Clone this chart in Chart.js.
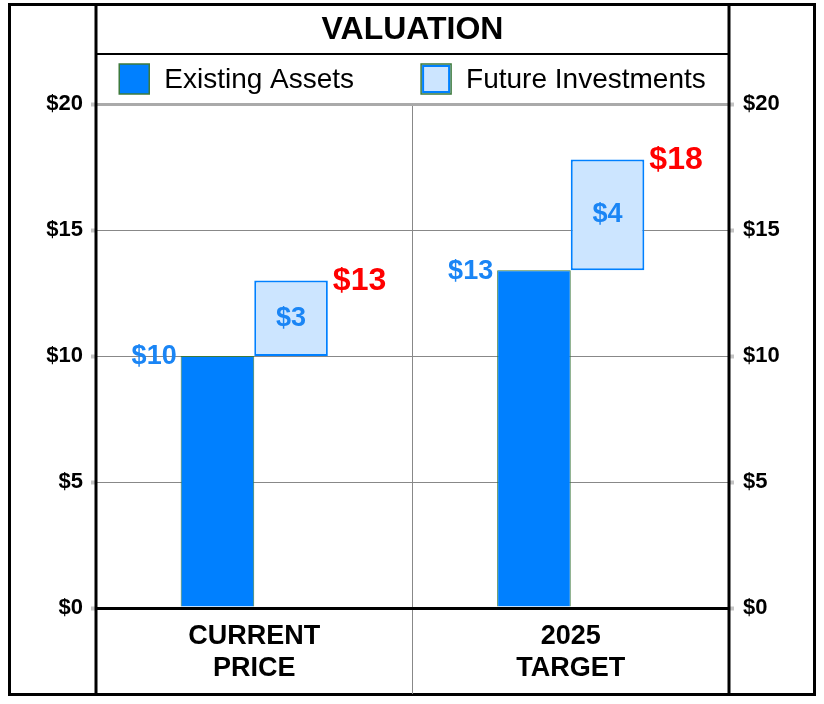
<!DOCTYPE html>
<html>
<head>
<meta charset="utf-8">
<script src="https://cdn.jsdelivr.net/npm/chart.js@4"></script>
<style>
  body { margin: 0; background: #fff; }
  canvas { display: block; }
</style>
</head>
<body>
<canvas id="myChart" width="824" height="704"></canvas>
<script>
// chart data
const categories = [['CURRENT', 'PRICE'], ['2025', 'TARGET']];
const seriesNames = ['Existing Assets', 'Future Investments'];
const existing = [10, 13.4];
const future = [3.0, 4.4];
const yTicks = [0, 5, 10, 15, 20];
const chartTitle = 'VALUATION';

const $font = '"Liberation Sans", Arial, sans-serif';
const $blue = '#0080FF';
const $light = '#CCE5FF';
const $labelBlue = '#1A85F5';

// floating bars: future sits on top of existing
const futureBars = future.map(function($v, $i) {
    return [existing[$i], existing[$i] + $v];
});

function money($v) {
    return '$' + Math.round($v);
}

const framePlugin = {
    id: 'frame',
    afterDraw(chart) {
        const ctx = chart.ctx;
        const a = chart.chartArea;
        const W = chart.width, H = chart.height;
        const top = 4, bottom = H - 10;
        ctx.save();
        ctx.strokeStyle = '#000';

        // outer box
        ctx.lineWidth = 3;
        ctx.strokeRect(9.5, top + 0.5, W - 19, bottom - top);

        // inner verticals
        ctx.beginPath();
        ctx.moveTo(a.left, top);
        ctx.lineTo(a.left, bottom);
        ctx.moveTo(a.right, top);
        ctx.lineTo(a.right, bottom);
        ctx.stroke();

        // title separator
        ctx.lineWidth = 2;
        ctx.beginPath();
        ctx.moveTo(a.left, 54);
        ctx.lineTo(a.right, 54);
        ctx.stroke();

        // middle divider below the plot
        const x = chart.scales.x;
        const mid = (x.getPixelForValue(0) + x.getPixelForValue(1)) / 2;
        ctx.strokeStyle = '#888';
        ctx.lineWidth = 1;
        ctx.beginPath();
        ctx.moveTo(mid, a.bottom + 2);
        ctx.lineTo(mid, bottom);
        ctx.stroke();

        // title
        ctx.fillStyle = '#000';
        ctx.font = 'bold 32px ' + $font;
        ctx.textAlign = 'center';
        ctx.textBaseline = 'middle';
        ctx.fillText(chartTitle, (a.left + a.right) / 2, 30);

        // legend
        ctx.font = '28px ' + $font;
        const box = 30, gap = 15, spacing = 67;
        const items = chart.data.datasets.map(function(d) {
            return {text: d.label, fill: d.backgroundColor, w: box + gap + ctx.measureText(d.label).width};
        });
        let total = spacing * (items.length - 1);
        items.forEach(function(it) { total += it.w; });
        let lx = (a.left + a.right) / 2 - total / 2;
        const ly = 79;
        items.forEach(function(it, i) {
            ctx.fillStyle = it.fill;
            ctx.fillRect(lx, ly - box / 2, box, box);
            if (i === 1) {
                ctx.strokeStyle = $blue;
                ctx.lineWidth = 2;
                ctx.strokeRect(lx + 2, ly - box / 2 + 2, box - 4, box - 4);
            }
            ctx.strokeStyle = '#3d7a3d';
            ctx.lineWidth = 1.5;
            ctx.strokeRect(lx, ly - box / 2, box, box);
            ctx.fillStyle = '#000';
            ctx.textAlign = 'left';
            ctx.fillText(it.text, lx + box + gap, ly + 1);
            lx += it.w + spacing;
        });

        // value labels
        const m0 = chart.getDatasetMeta(0);
        const m1 = chart.getDatasetMeta(1);
        m0.data.forEach(function(el, i) {
            ctx.font = 'bold 27px ' + $font;
            ctx.fillStyle = $labelBlue;
            ctx.textAlign = 'right';
            ctx.fillText(money(existing[i]), el.x - el.width / 2 - 4, el.y + 1);
        });
        m1.data.forEach(function(el, i) {
            ctx.font = 'bold 27px ' + $font;
            ctx.fillStyle = $labelBlue;
            ctx.textAlign = 'center';
            ctx.fillText(money(future[i]), el.x, (el.y + el.base) / 2);
            ctx.font = 'bold 32px ' + $font;
            ctx.fillStyle = '#FF0000';
            ctx.textAlign = 'left';
            ctx.fillText(money(existing[i] + future[i]), el.x + el.width / 2 + 5, el.y + 1);
        });
        ctx.restore();
    }
};

const $ctx = document.getElementById('myChart');

new Chart($ctx, {
    type: 'bar',
    data: {
        labels: categories,
        datasets: [{
            label: seriesNames[0],
            data: existing.map(function($v) { return [0, $v]; }),
            backgroundColor: $blue,
            borderColor: '#3d7a3d',
            borderWidth: 1,
            borderSkipped: 'start'
        }, {
            label: seriesNames[1],
            data: futureBars,
            backgroundColor: $light,
            borderColor: $blue,
            borderWidth: 2,
            borderSkipped: false
        }]
    },
    plugins: [framePlugin],
    options: {
        responsive: false,
        animation: false,
        categoryPercentage: 0.465,
        barPercentage: 1,
        layout: { padding: { top: 104 } },
        plugins: {
            legend: { display: false },
            title: { display: false },
            tooltip: { enabled: false }
        },
        scales: {
            x: {
                afterFit(scale) { scale.height = 96; },
                grid: {
                    color: function(c) { return c.index === 1 ? '#888' : 'rgba(0,0,0,0)'; },
                    drawTicks: false
                },
                border: { display: false },
                ticks: {
                    color: '#000',
                    padding: 13,
                    font: { family: $font, size: 27, weight: 'bold', lineHeight: 1.17 }
                }
            },
            y: {
                min: yTicks[0],
                max: yTicks[yTicks.length - 1],
                afterFit(scale) { scale.width = 96; },
                afterBuildTicks(scale) { scale.ticks = yTicks.map(function(v) { return {value: v}; }); },
                grid: {
                    color: function(c) {
                        if (c.tick.value === 0) return '#000';
                        if (c.tick.value === 20) return '#aaa';
                        return '#888';
                    },
                    lineWidth: function(c) {
                        if (c.tick.value === 0) return 3;
                        if (c.tick.value === 20) return 3;
                        return 1;
                    },
                    tickLength: 5,
                    tickWidth: 4,
                    tickColor: '#c4c4c4'
                },
                border: { display: false },
                ticks: {
                    color: '#000',
                    padding: 8,
                    font: { family: $font, size: 22, weight: 'bold' },
                    callback: function(v) { return '$' + v; }
                }
            },
            y2: {
                position: 'right',
                min: yTicks[0],
                max: yTicks[yTicks.length - 1],
                afterFit(scale) { scale.width = 95; },
                afterBuildTicks(scale) { scale.ticks = yTicks.map(function(v) { return {value: v}; }); },
                grid: {
                    drawOnChartArea: false,
                    tickLength: 5,
                    tickWidth: 4,
                    tickColor: '#c4c4c4'
                },
                border: { display: false },
                ticks: {
                    color: '#000',
                    padding: 9,
                    font: { family: $font, size: 22, weight: 'bold' },
                    callback: function(v) { return '$' + v; }
                }
            }
        }
    }
});
</script>
</body>
</html>
